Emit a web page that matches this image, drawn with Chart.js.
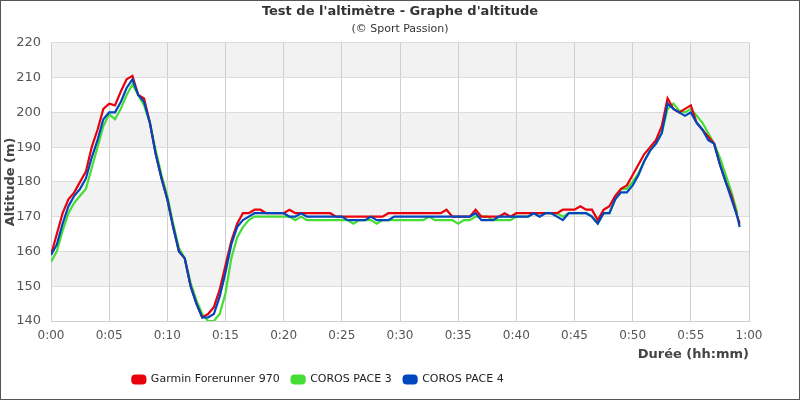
<!DOCTYPE html>
<html>
<head>
<meta charset="utf-8">
<script src="https://cdn.jsdelivr.net/npm/chart.js@4"></script>
<style>
  html, body { margin: 0; padding: 0; background: #fff; }
  #wrap { width: 800px; height: 400px; position: relative; }
</style>
</head>
<body>
<div id="wrap"><canvas id="myChart" width="800" height="400"></canvas></div>
<script>
// durée en minutes (pas de 30 s)
var MINUTES = [0,0.5,1,1.5,2,2.5,3,3.5,4,4.5,5,5.5,6,6.5,7,7.5,8,8.5,9,9.5,
  10,10.5,11,11.5,12,12.5,13,13.5,14,14.5,15,15.5,16,16.5,17,17.5,18,18.5,19,19.5,
  20,20.5,21,21.5,22,22.5,23,23.5,24,24.5,25,25.5,26,26.5,27,27.5,28,28.5,29,29.5,
  30,30.5,31,31.5,32,32.5,33,33.5,34,34.5,35,35.5,36,36.5,37,37.5,38,38.5,39,39.5,
  40,40.5,41,41.5,42,42.5,43,43.5,44,44.5,45,45.5,46,46.5,47,47.5,48,48.5,49,49.5,
  50,50.5,51,51.5,52,52.5,53,53.5,54,54.5,55,55.5,56,56.5,57,57.5,58,58.5,59,59.2]

var GARMIN = [159,165,171,175,177,180,183,190,195,201,202.5,202,206,209.5,210.5,205,204,197,188,181,
  175,167,160,158,150,145,141,142,144,149,156,163,168,171,171,172,172,171,171,171,
  171,172,171,171,171,171,171,171,171,170,170,170,170,170,170,170,170,170,171,171,
  171,171,171,171,171,171,171,171,172,170,170,170,170,172,170,170,170,170,171,170,
  171,171,171,171,171,171,171,171,172,172,172,173,172,172,169,172,173,176,178,179,
  182,185,188,190,192,196,204,201,200,201,202,197,195,193,191,185,180,176,170,168]

var COROS3 = [157,160,166,171,174,176,178,184,190,196,199.5,198,201,205,208,205,202,197,189,182,
  176,168,161,158,151,146,142,140,140,142,148,158,164,167,169,170,170,170,170,170,
  170,170,169,170,169,169,169,169,169,169,169,169,168,169,169,169,168,169,169,169,
  169,169,169,169,169,170,169,169,169,169,168,169,169,170,170,170,169,169,169,169,
  170,170,170,171,171,171,171,171,170,171,171,171,171,170,168,171,171,175,178,178,
  180,182.5,186,189,191,194,201,202.5,200.5,200,201,199,197,194,191,187,182,177,171,null]

var COROS4 = [159,162,168,173,176,178,181,187,192,198,200,200,203,207,209.5,205,203,197,188,181,
  175,167,160,158,150,145,141,141,142,147,154,162,167,169,170,171,171,171,171,171,
  171,170,170,171,170,170,170,170,170,170,170,169,169,169,169,170,169,169,169,170,
  170,170,170,170,170,170,170,170,170,170,170,170,170,171,169,169,169,170,170,170,
  170,170,170,171,170,171,171,170,169,171,171,171,171,170,168,171,171,175,177,177,
  179,182,186,189,191,194,202.5,201,200,199,200,197,195,192,191,185,180,175,170,167]

var SERIES = ["Garmin Forerunner 970","COROS PACE 3","COROS PACE 4"]
var COLORS = ["#e8000b","#44dd33","#0047bd"]
var Y_MIN = 140, Y_MAX = 220, X_MAX = 60

function points(arr) {
  return MINUTES.map(function(t, i) { return {x: t, y: arr[i]} })
}

function fmtDuree(v) {
  var h = Math.floor(v / 60), m = Math.round(v % 60)
  return h + ':' + (m < 10 ? '0' + m : m)
}

// bandes grises alternées, cadre, légende décalée
const bandes = {
  id: 'bandes',
  afterLayout(chart) {
    // la légende d'origine n'est pas centrée sur la page
    chart.legend.left -= 82
    chart.legend.right -= 82
  },
  beforeDraw(chart) {
    const ctx = chart.ctx, a = chart.chartArea, y = chart.scales.y
    ctx.save()
    ctx.fillStyle = '#fff'
    ctx.fillRect(0, 0, chart.width, chart.height)
    ctx.fillStyle = '#f2f2f2'
    for (let v = Y_MIN + 10; v < Y_MAX; v += 20) {
      const top = y.getPixelForValue(v + 10), bot = y.getPixelForValue(v)
      ctx.fillRect(a.left, top, a.right - a.left, bot - top)
    }
    ctx.restore()
  },
  afterDraw(chart) {
    const ctx = chart.ctx
    ctx.save()
    ctx.strokeStyle = '#555'
    ctx.lineWidth = 1
    ctx.strokeRect(0.5, 0.5, chart.width - 1, chart.height - 1)
    ctx.restore()
  }
}

const data = {
  datasets: [GARMIN, COROS3, COROS4].map(function(arr, i) {
    return {
      label: SERIES[i],
      data: points(arr),
      borderColor: COLORS[i],
      backgroundColor: COLORS[i],
      borderWidth: 2.2,
      pointRadius: 0,
      tension: 0,
      fill: false,
      yAxisID: 'y',
      order: i == 2 ? 0 : (i == 0 ? 1 : 2)
    }
  })
}

const config = {
  type: 'line',
  data: data,
  plugins: [bandes],
  options: {
    responsive: false,
    animation: false,
    layout: { padding: { left: 0, right: 0, top: 0, bottom: 5 } },
    scales: {
      x: {
        type: 'linear', min: 0, max: X_MAX,
        ticks: { stepSize: 5, color: '#555', font: { family: 'DejaVu Sans', size: 12 }, padding: 8, callback: fmtDuree, maxRotation: 0 },
        grid: { color: '#cfcfcf', drawTicks: false },
        border: { color: '#cfcfcf' },
        title: { display: true, text: 'Durée (hh:mm)', align: 'end', color: '#444', font: { family: 'DejaVu Sans', size: 13, weight: 'bold' }, padding: { top: -5, bottom: 0 } }
      },
      y: {
        min: Y_MIN, max: Y_MAX,
        ticks: { stepSize: 10, color: '#555', font: { family: 'DejaVu Sans', size: 13 }, padding: 10 },
        grid: { color: '#dcdcdc', drawTicks: false },
        border: { display: false },
        title: { display: true, text: 'Altitude (m)', color: '#444', font: { family: 'DejaVu Sans', size: 13, weight: 'bold' }, padding: { top: 3, bottom: 0 } },
        afterFit: function(s) { s.width = 51 }
      },
      marge: {
        position: 'right', min: Y_MIN, max: Y_MAX,
        ticks: { display: false },
        grid: { display: false, drawTicks: false },
        border: { display: false },
        afterFit: function(s) { s.width = 51 }
      }
    },
    plugins: {
      title: { display: true, text: "Test de l'altimètre - Graphe d'altitude", color: '#333', font: { family: 'DejaVu Sans', size: 13, weight: 'bold' }, padding: { top: 4, bottom: 2 } },
      subtitle: { display: true, text: '(© Sport Passion)', color: '#333', font: { family: 'DejaVu Sans', size: 11 }, padding: { top: 1, bottom: 7 } },
      legend: {
        position: 'bottom',
        labels: {
          boxWidth: 13, boxHeight: 8, useBorderRadius: true, borderRadius: 3,
          color: '#222', font: { family: 'DejaVu Sans', size: 11 }, padding: 12,
          sort: function(a, b) { return a.datasetIndex - b.datasetIndex }
        }
      },
      tooltip: { enabled: false }
    }
  }
}

var myChart = new Chart(document.getElementById('myChart'), config)
</script>
</body>
</html>
